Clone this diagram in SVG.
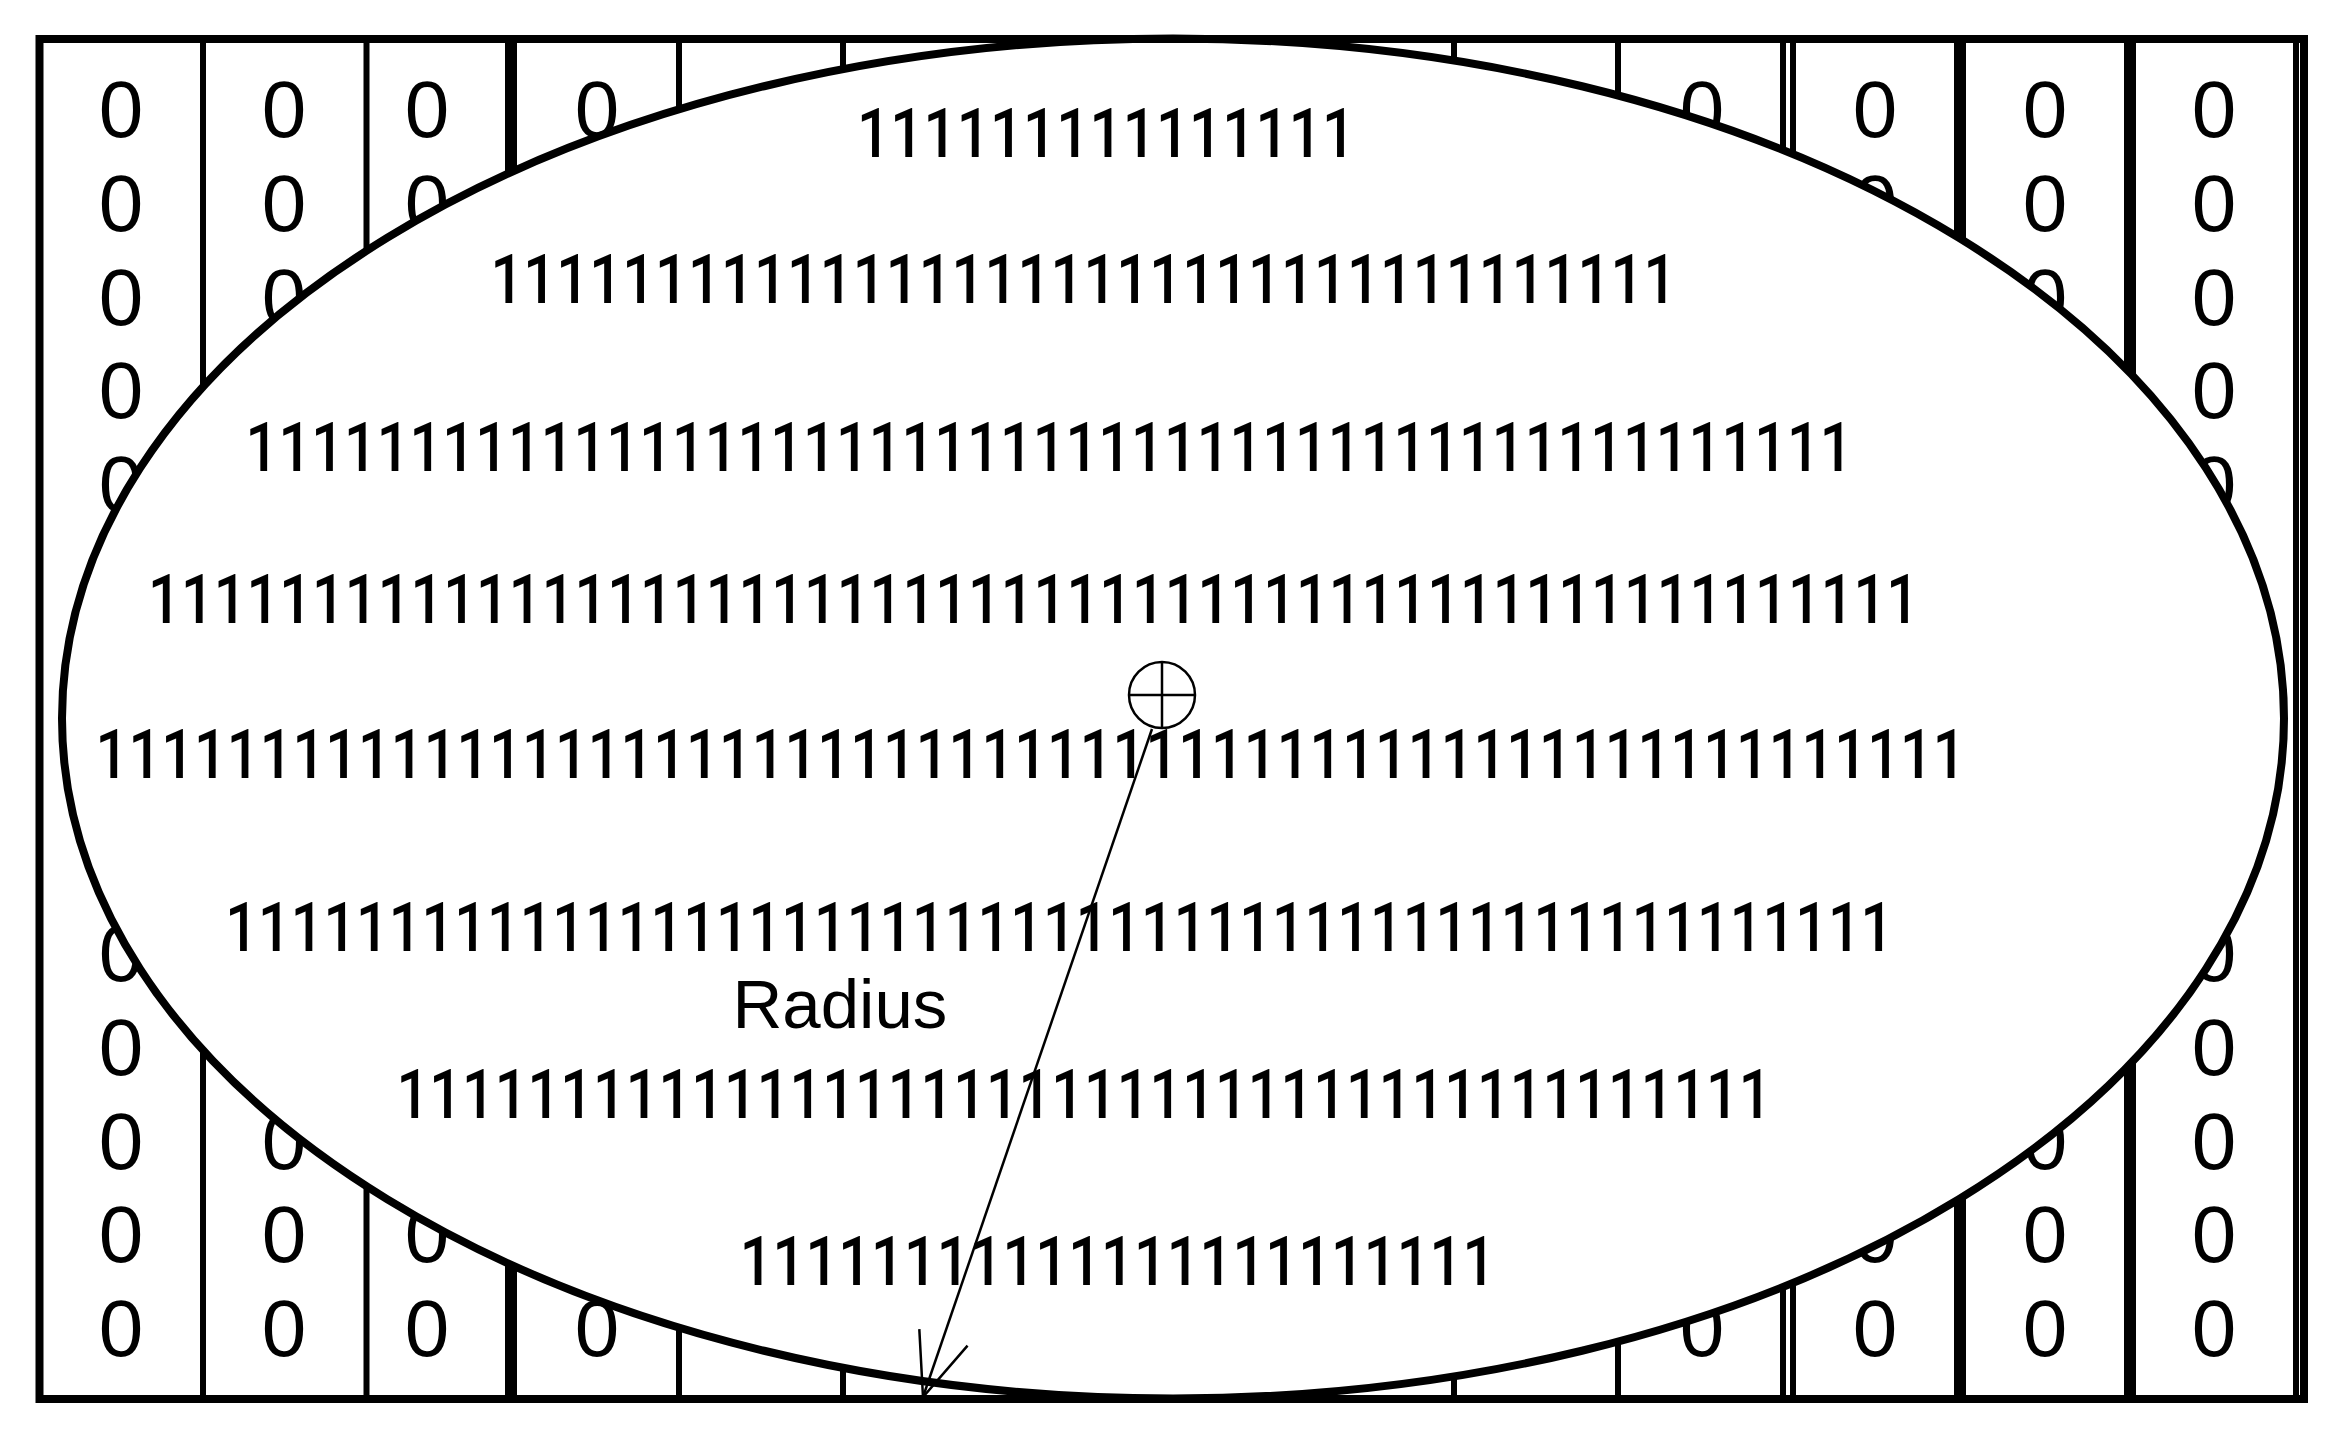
<svg xmlns="http://www.w3.org/2000/svg" width="2341" height="1434" viewBox="0 0 2341 1434">
<style>
.z{font-family:"Liberation Sans",Arial,sans-serif;font-size:80px;fill:#000;text-anchor:middle}
.o{font-family:Roboto,"Open Sans",sans-serif;font-size:69px;font-weight:500;fill:#000}
.lbl{font-family:"Liberation Sans",Arial,sans-serif;font-size:69px;fill:#000}
.thin{stroke:#000;stroke-width:6;fill:none}
.thick{stroke:#000;stroke-width:12;fill:none}
.conn{stroke:#000;stroke-width:2.5;fill:none}
</style>
<defs>
<marker id="openArrow" markerUnits="userSpaceOnUse" viewBox="-70 -30 75 60" refX="0" refY="0" markerWidth="75" markerHeight="60" orient="auto" overflow="visible">
<path d="M -63 -25.5 L 0 0 L -63 25.5" fill="none" stroke="#000" stroke-width="2.5"/>
</marker>
</defs>
<rect x="0" y="0" width="2341" height="1434" fill="#fff"/>
<g id="zero-columns">
<text id="col1" class="z" x="121 121 121 121 121 121 121 121 121 121 121 121 121 121" y="137 230.8 324.5 418.3 512.1 605.9 699.6 793.4 887.2 980.9 1074.7 1168.5 1262.2 1356">00000000000000</text>
<text id="col2" class="z" x="284 284 284 284 284 284 284 284 284 284 284 284 284 284" y="137 230.8 324.5 418.3 512.1 605.9 699.6 793.4 887.2 980.9 1074.7 1168.5 1262.2 1356">00000000000000</text>
<text id="col3" class="z" x="427 427 427 427 427 427 427 427 427 427 427 427 427 427" y="137 230.8 324.5 418.3 512.1 605.9 699.6 793.4 887.2 980.9 1074.7 1168.5 1262.2 1356">00000000000000</text>
<text id="col4" class="z" x="597 597 597 597 597 597 597 597 597 597 597 597 597 597" y="137 230.8 324.5 418.3 512.1 605.9 699.6 793.4 887.2 980.9 1074.7 1168.5 1262.2 1356">00000000000000</text>
<text id="col5" class="z" x="1702 1702 1702 1702 1702 1702 1702 1702 1702 1702 1702 1702 1702 1702" y="137 230.8 324.5 418.3 512.1 605.9 699.6 793.4 887.2 980.9 1074.7 1168.5 1262.2 1356">00000000000000</text>
<text id="col6" class="z" x="1875 1875 1875 1875 1875 1875 1875 1875 1875 1875 1875 1875 1875 1875" y="137 230.8 324.5 418.3 512.1 605.9 699.6 793.4 887.2 980.9 1074.7 1168.5 1262.2 1356">00000000000000</text>
<text id="col7" class="z" x="2045 2045 2045 2045 2045 2045 2045 2045 2045 2045 2045 2045 2045 2045" y="137 230.8 324.5 418.3 512.1 605.9 699.6 793.4 887.2 980.9 1074.7 1168.5 1262.2 1356">00000000000000</text>
<text id="col8" class="z" x="2214 2214 2214 2214 2214 2214 2214 2214 2214 2214 2214 2214 2214 2214" y="137 230.8 324.5 418.3 512.1 605.9 699.6 793.4 887.2 980.9 1074.7 1168.5 1262.2 1356">00000000000000</text>
</g>
<g id="dividers">
<line class="thin" x1="203" y1="39" x2="203" y2="1399"/>
<line class="thin" x1="366.5" y1="39" x2="366.5" y2="1399"/>
<line class="thick" x1="511" y1="39" x2="511" y2="1399"/>
<line class="thin" x1="679" y1="39" x2="679" y2="1399"/>
<line class="thin" x1="843" y1="39" x2="843" y2="1399"/>
<line class="thin" x1="1454" y1="39" x2="1454" y2="1399"/>
<line class="thin" x1="1618" y1="39" x2="1618" y2="1399"/>
<line class="thin" x1="1783" y1="39" x2="1783" y2="1399"/>
<line class="thin" x1="1793" y1="39" x2="1793" y2="1399"/>
<line class="thick" x1="1960" y1="39" x2="1960" y2="1399"/>
<line class="thick" x1="2130" y1="39" x2="2130" y2="1399"/>
<line class="thin" x1="2296" y1="39" x2="2296" y2="1399"/>
</g>
<g id="region-ellipse">
<ellipse cx="1173" cy="718.5" rx="1111" ry="680" fill="#fff" stroke="#000" stroke-width="8"/>
</g>
<g id="frame">
<rect x="39.5" y="39" width="2264.5" height="1360" fill="none" stroke="#000" stroke-width="8"/>
</g>
<g id="one-rows">
<text class="o" x="857.1" y="156.7" textLength="498" lengthAdjust="spacingAndGlyphs">111111111111111</text>
<text class="o" x="490.4" y="303.3" textLength="1186" lengthAdjust="spacingAndGlyphs">111111111111111111111111111111111111</text>
<text class="o" x="245.6" y="470.7" textLength="1607" lengthAdjust="spacingAndGlyphs">1111111111111111111111111111111111111111111111111</text>
<text class="o" x="148.1" y="623.3" textLength="1771" lengthAdjust="spacingAndGlyphs">111111111111111111111111111111111111111111111111111111</text>
<text class="o" x="95.6" y="778.3" textLength="1870" lengthAdjust="spacingAndGlyphs">111111111111111111111111111111111111111111111111111111111</text>
<text class="o" x="225.3" y="951" textLength="1668" lengthAdjust="spacingAndGlyphs">111111111111111111111111111111111111111111111111111</text>
<text class="o" x="396.6" y="1118.3" textLength="1375" lengthAdjust="spacingAndGlyphs">111111111111111111111111111111111111111111</text>
<text class="o" x="739.7" y="1285" textLength="755.6" lengthAdjust="spacingAndGlyphs">11111111111111111111111</text>
</g>
<g id="center-marker">
<circle cx="1162" cy="695" r="33" fill="none" stroke="#000" stroke-width="2.5"/>
<line x1="1129" y1="695" x2="1195" y2="695" stroke="#000" stroke-width="2.5"/>
<line x1="1162" y1="662" x2="1162" y2="728" stroke="#000" stroke-width="2.5"/>
</g>
<g id="connectors">
<line class="conn" x1="1152" y1="729" x2="923" y2="1397" marker-end="url(#openArrow)"/>
</g>
<g id="radius-label">
<text class="lbl" x="732.5" y="1028.3">Radius</text>
</g>
</svg>
